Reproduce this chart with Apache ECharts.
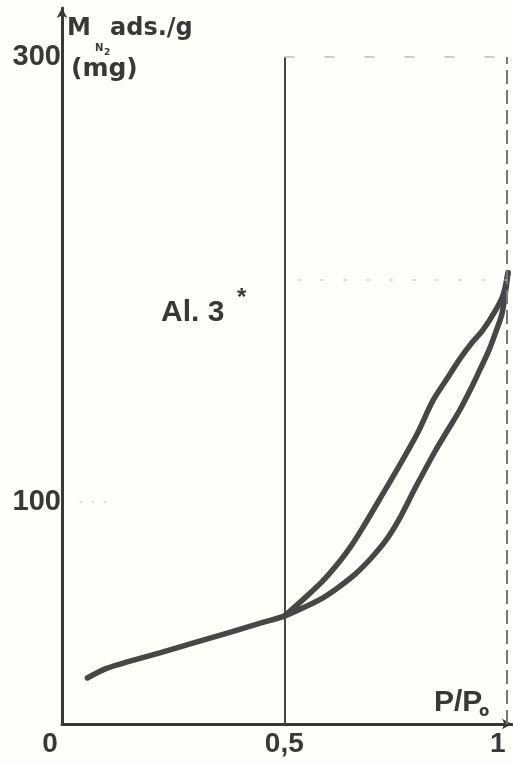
<!DOCTYPE html>
<html><head><meta charset="utf-8">
<script src="https://cdn.jsdelivr.net/npm/echarts@6/dist/echarts.min.js"></script>
<style>html,body{margin:0;padding:0;background:#fdfdf9;}#c{width:513px;height:763px;}</style>
</head><body><div id="c"></div>
<script>
// Adsorption branch (lower curve), P/P0 and mg/g
const adsP = [0.057, 0.10, 0.147, 0.22, 0.296, 0.37, 0.448, 0.5, 0.545, 0.585, 0.622, 0.66, 0.697, 0.73, 0.758, 0.794, 0.84, 0.87, 0.894, 0.92, 0.939, 0.96, 0.975, 0.99, 1.003];
const adsV = [20.7, 25, 27.9, 32, 36.5, 40.8, 45.5, 48.5, 52.5, 56.5, 61.5, 67.5, 75, 83, 92, 106, 123, 133, 141, 151, 159, 168, 176, 185, 203];
// Desorption branch (upper curve)
const desP = [0.5, 0.545, 0.585, 0.622, 0.65, 0.674, 0.72, 0.758, 0.8, 0.833, 0.865, 0.894, 0.92, 0.946, 0.975, 0.992, 1.003];
const desV = [48.5, 56.5, 64, 72.5, 80, 87.5, 103, 116, 131, 145, 155, 164, 171, 177, 186, 193, 203];
// tick labels
const xTicks = [0, 0.5, 1];
const xTickLabels = ['0', '0,5', '1'];
const yTicks = [100, 300];
const yTickLabels = ['100', '300'];

const ink = '#383838';
const chart = echarts.init(document.getElementById('c'));
const pairs = (a, b) => a.map((v, i) => [v, b[i]]);
const lab = {color: ink, fontFamily: 'Liberation Sans', fontWeight: 'bold', fontSize: 28};
chart.setOption({
  backgroundColor: '#fdfdf9',
  animation: false,
  grid: {left: 62, right: 1, top: 8, bottom: 39},
  xAxis: {
    type: 'value', min: 0, max: 1.012,
    axisLine: {show: true, lineStyle: {color: ink, width: 3}, symbol: ['none', 'arrow'], symbolSize: [8, 10]},
    axisTick: {show: false},
    splitLine: {show: false},
    axisLabel: Object.assign({}, lab, {
      customValues: xTicks, margin: 6,
      formatter: v => {
        const i = xTicks.indexOf(v);
        if (i === 0) return '{z|' + xTickLabels[i] + '}';
        if (i === 2) return '{o|' + xTickLabels[i] + '}';
        return xTickLabels[i];
      },
      rich: {
        z: Object.assign({}, lab, {padding: [0, 24, 0, 0]}),
        o: Object.assign({}, lab, {padding: [0, 18, 0, 0]})
      }
    })
  },
  yAxis: {
    type: 'value', min: 0, max: 322,
    axisLine: {show: true, lineStyle: {color: ink, width: 3}, symbol: ['none', 'arrow'], symbolSize: [8, 10]},
    axisTick: {show: false},
    splitLine: {show: false},
    axisLabel: Object.assign({}, lab, {
      customValues: yTicks, fontSize: 29, margin: 1,
      formatter: v => yTickLabels[yTicks.indexOf(v)]
    })
  },
  series: [
    {
      type: 'line', data: pairs(adsP, adsV), smooth: 0.3, showSymbol: false,
      lineStyle: {color: '#474747', width: 5.5, cap: 'round', join: 'round'},
      markLine: {
        silent: true, symbol: 'none', label: {show: false},
        data: [
          [{coord: [0.5, 0], lineStyle: {color: '#444', width: 2, type: 'solid'}}, {coord: [0.5, 300]}],
          [{coord: [1.0, 0], lineStyle: {color: '#777', width: 2, type: [14, 6]}}, {coord: [1.0, 300]}],
          [{coord: [0.5, 300], lineStyle: {color: '#bbb', width: 1.5, type: [10, 30]}}, {coord: [1.0, 300]}],
          [{coord: [0.53, 200], lineStyle: {color: '#ccc', width: 1.5, type: [3, 20]}}, {coord: [1.0, 200]}],
          [{coord: [0.04, 100], lineStyle: {color: '#ccc', width: 1.5, type: [2, 10]}}, {coord: [0.1, 100]}]
        ]
      }
    },
    {
      type: 'line', data: pairs(desP, desV), smooth: 0.3, showSymbol: false,
      lineStyle: {color: '#474747', width: 5.5, cap: 'round', join: 'round'}
    }
  ],
  graphic: [
    {type: 'text', left: 67, top: 17, style: {text: 'M', fill: ink, fontFamily: 'DejaVu Sans', fontWeight: 'bold', fontSize: 24}},
    {type: 'text', left: 110, top: 17, style: {text: 'ads./g', fill: ink, fontFamily: 'DejaVu Sans', fontWeight: 'bold', fontSize: 24}},
    {type: 'text', left: 95, top: 43, style: {text: 'N', fill: ink, fontFamily: 'DejaVu Sans', fontWeight: 'bold', fontSize: 10}},
    {type: 'text', left: 104, top: 48, style: {text: '2', fill: ink, fontFamily: 'DejaVu Sans', fontWeight: 'bold', fontSize: 9}},
    {type: 'text', left: 71, top: 57, style: {text: '(mg)', fill: ink, fontFamily: 'DejaVu Sans', fontWeight: 'bold', fontSize: 25}},
    {type: 'text', left: 434, top: 688, style: {text: 'P/P', fill: ink, fontFamily: 'Liberation Sans', fontWeight: 'bold', fontSize: 30}},
    {type: 'text', left: 479, top: 705, style: {text: 'o', fill: ink, fontFamily: 'DejaVu Sans', fontWeight: 'bold', fontSize: 15}},
    {type: 'text', left: 161, top: 298, style: {text: 'Al. 3', fill: ink, fontFamily: 'Liberation Sans', fontWeight: 'bold', fontSize: 30}},
    {type: 'text', left: 237, top: 286, style: {text: '*', fill: ink, fontFamily: 'Liberation Sans', fontWeight: 'bold', fontSize: 24}}
  ]
});
</script></body></html>
